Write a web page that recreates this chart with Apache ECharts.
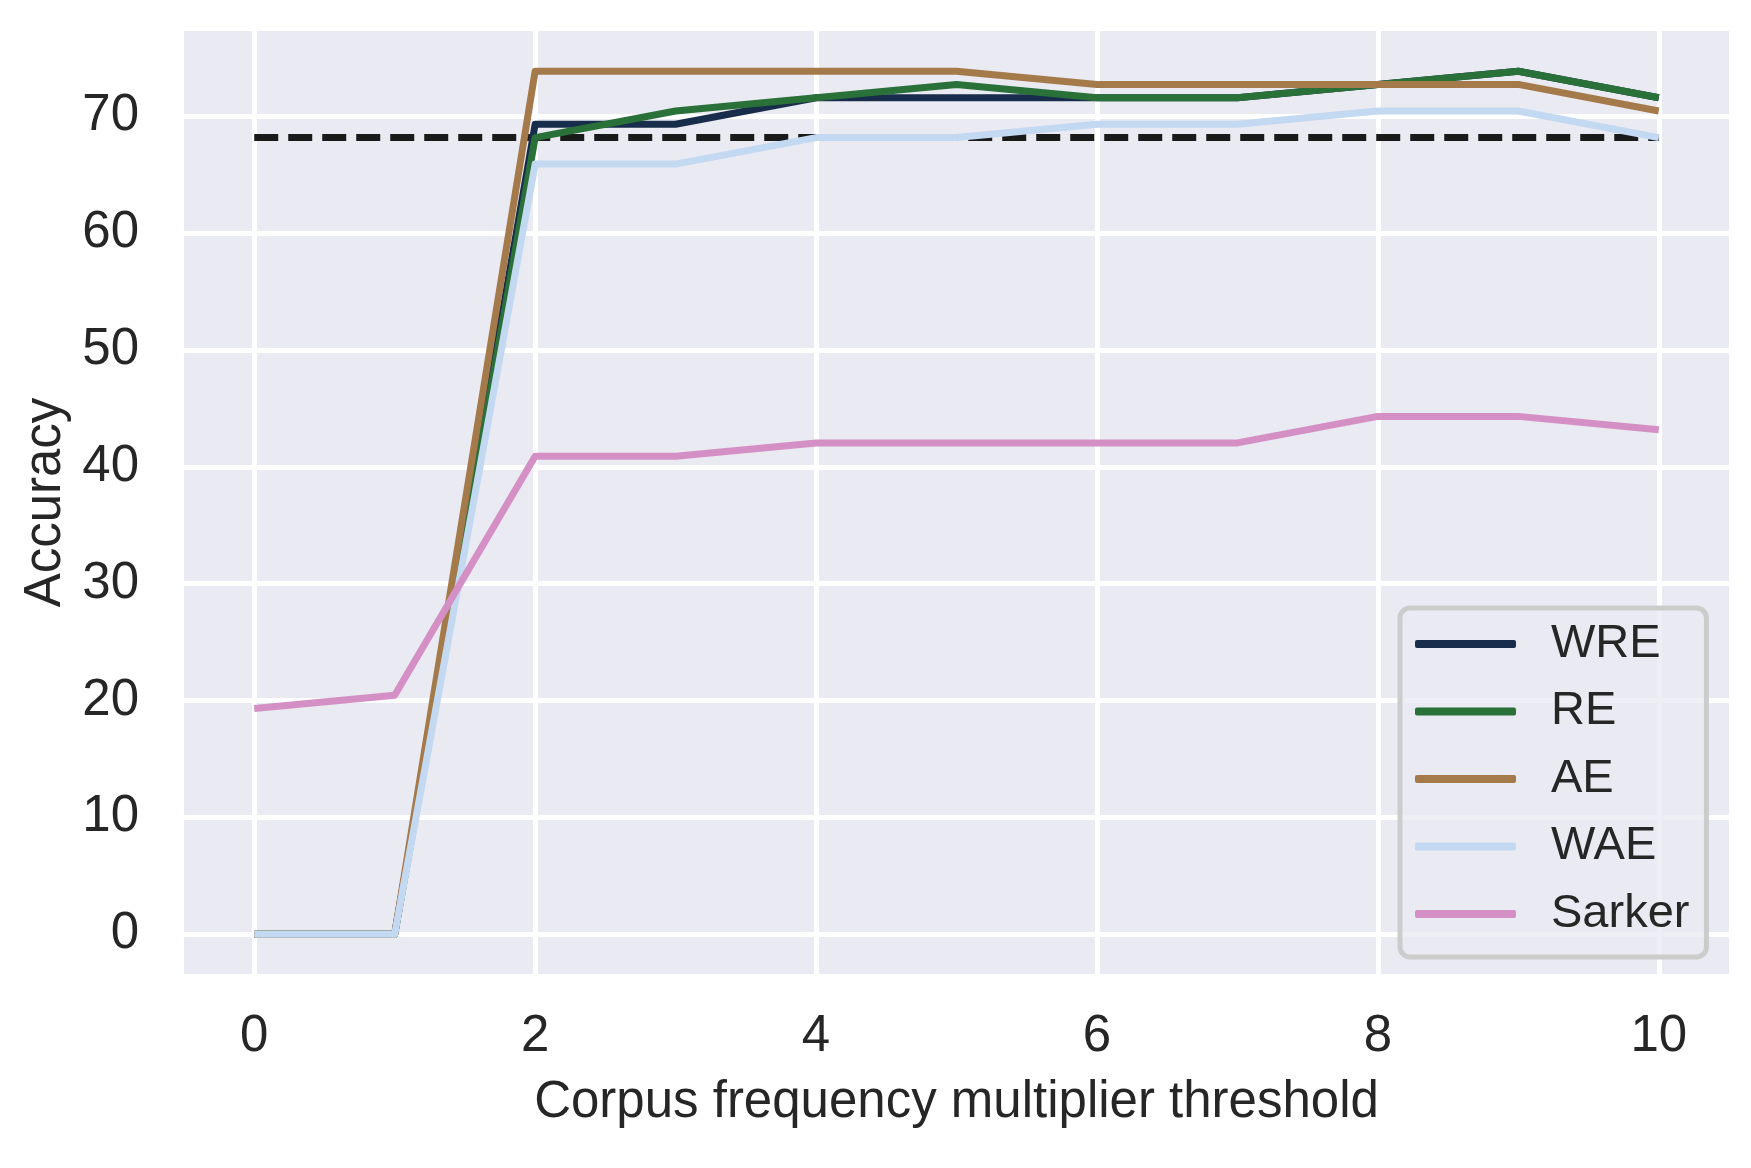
<!DOCTYPE html>
<html>
<head>
<meta charset="utf-8">
<script src="https://cdn.jsdelivr.net/npm/echarts@6/dist/echarts.min.js"></script>
<style>
html,body{margin:0;padding:0;background:#fff;}
#c{width:1751px;height:1168px;}
</style>
</head>
<body>
<div id="c"></div>
<script>
const xValues = [0,1,2,3,4,5,6,7,8,9,10];
const WRE    = [0,0,69.32,69.32,71.59,71.59,71.59,71.59,72.73,73.86,71.59];
const RE     = [0,0,68.18,70.45,71.59,72.73,71.59,71.59,72.73,73.86,71.59];
const AE     = [0,0,73.86,73.86,73.86,73.86,72.73,72.73,72.73,72.73,70.45];
const WAE    = [0,0,65.91,65.91,68.18,68.18,69.32,69.32,70.45,70.45,68.18];
const Sarker = [19.32,20.45,40.91,40.91,42.05,42.05,42.05,42.05,44.32,44.32,43.18];
const baselineX = [0,10];
const baselineY = [68.18,68.18];
const xTicks = [0,2,4,6,8,10];
const yTicks = [0,10,20,30,40,50,60,70];
const seriesNames = ['WRE','RE','AE','WAE','Sarker'];
const seriesData = [WRE, RE, AE, WAE, Sarker];
const colors = ['#182c4b','#2a7039','#a47a4b','#c3d8f1','#d490c5'];

const FONT = "'Liberation Sans', Arial, sans-serif";
const TXT = '#262626';

const chart = echarts.init(document.getElementById('c'), null, {renderer:'canvas'});

const series = [{
  name: 'baseline',
  type: 'line',
  data: baselineX.map((x,i)=>[x, baselineY[i]]),
  showSymbol: false, symbol: 'none',
  lineStyle: {color:'#1a1a1a', width:7, type:[24,10]},
  z: 2, silent: true
}];
seriesNames.forEach((n,k)=>{
  series.push({
    name: n,
    type: 'line',
    data: xValues.map((x,i)=>[x, seriesData[k][i]]),
    showSymbol: false, symbol: 'none',
    color: colors[k],
    lineStyle: {color: colors[k], width: 7, join:'round'},
    z: 3 + k
  });
});

chart.setOption({
  animation: false,
  backgroundColor: '#ffffff',
  textStyle: {fontFamily: FONT, color: TXT},
  grid: {left:184, right:22, top:31, bottom:194, show:true, backgroundColor:'#eaeaf2', borderWidth:0},
  xAxis: {
    type:'value', min:-0.5, max:10.5,
    name:'Corpus frequency multiplier threshold', nameLocation:'middle', nameGap:129,
    nameTextStyle:{fontSize:51, color:TXT, fontFamily:FONT, verticalAlign:'middle'},
    axisLine:{show:false},
    axisTick:{show:false, customValues:xTicks},
    axisLabel:{customValues:xTicks, fontSize:51, color:TXT, fontFamily:FONT, margin:37, lineHeight:51},
    splitLine:{show:true, lineStyle:{color:'#ffffff', width:5}}
  },
  yAxis: {
    type:'value', min:-3.4, max:77.3,
    name:'Accuracy', nameLocation:'middle', nameGap:137, nameRotate:90,
    nameTextStyle:{fontSize:51, color:TXT, fontFamily:FONT, verticalAlign:'middle'},
    axisLine:{show:false},
    axisTick:{show:false, customValues:yTicks},
    axisLabel:{customValues:yTicks, fontSize:51, color:TXT, fontFamily:FONT, margin:45},
    splitLine:{show:true, lineStyle:{color:'#ffffff', width:5}}
  },
  legend: {
    data: seriesNames,
    orient:'vertical',
    left:1400, top:608,
    padding:[11,17,18,15],
    backgroundColor:'rgba(234,234,242,0.8)',
    borderColor:'#cccccc', borderWidth:5, borderRadius:10,
    itemWidth:101, itemHeight:8, itemGap:17.5,
    icon:'roundRect',
    textStyle:{fontSize:47, color:TXT, fontFamily:FONT, lineHeight:50, padding:[0,0,0,30]}
  },
  series: series
});
</script>
</body>
</html>
